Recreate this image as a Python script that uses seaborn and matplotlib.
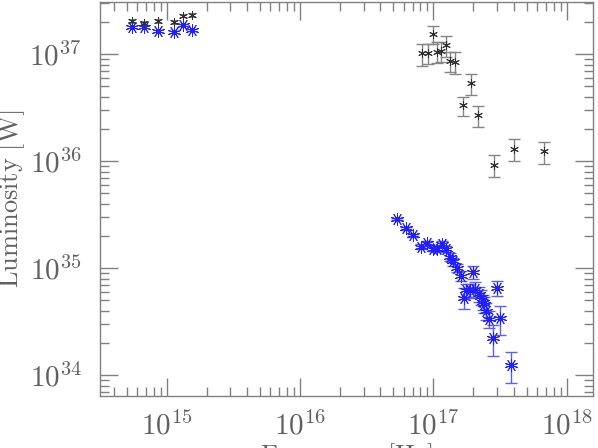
import numpy as np
import pandas as pd
import matplotlib
matplotlib.use("Agg")
import matplotlib.pyplot as plt
import matplotlib.ticker as mticker
import seaborn as sns

# optical/UV points (top left)
uv_freq = [5.46e14, 6.76e14, 8.65e14, 1.14e15, 1.33e15, 1.54e15]
uv_lum_blue = [1.81e37, 1.81e37, 1.65e37, 1.61e37, 1.88e37, 1.69e37]
uv_lum_black = [2.05e37, 1.96e37, 2.05e37, 1.99e37, 2.30e37, 2.33e37]
uv_err_black = [0.8e36, 0.8e36, 0.8e36, 0.8e36, 0.9e36, 0.9e36]

# X-ray points, blue series
xb_freq = [5.34e16, 6.22e16, 7.08e16, 8.02e16, 8.91e16, 9.9e16, 1.07e17, 1.16e17,
           1.24e17, 1.33e17, 1.41e17, 1.51e17, 1.61e17, 1.97e17, 1.77e17, 1.90e17,
           1.69e17, 2.07e17, 2.22e17, 2.28e17, 2.34e17, 2.41e17, 2.49e17, 2.63e17,
           2.99e17, 3.14e17, 2.82e17, 3.84e17]
xb_lum = [2.88e35, 2.37e35, 2.03e35, 1.59e35, 1.71e35, 1.52e35, 1.50e35, 1.68e35,
          1.52e35, 1.28e35, 1.16e35, 1.01e35, 8.5e34, 9.2e34, 6.27e34, 6.2e34,
          5.33e34, 6.37e34, 5.78e34, 5.40e34, 4.88e34, 4.59e34, 3.99e34, 3.36e34,
          6.55e34, 3.44e34, 2.23e34, 1.25e34]
xb_err = [0.8e34, 0.7e34, 0.6e34, 0.8e34, 0.9e34, 0.8e34, 0.8e34, 1.0e34,
          1.0e34, 1.0e34, 1.0e34, 0.9e34, 0.9e34, 1.2e34, 0.9e34, 0.9e34,
          1.2e34, 1.0e34, 0.9e34, 0.9e34, 0.8e34, 0.8e34, 0.7e34, 0.6e34,
          1.0e34, 1.04e34, 0.7e34, 0.4e34]

# X-ray points, black series
xk_freq = [8.2e16, 9.2e16, 1.0e17, 1.07e17, 1.14e17, 1.24e17, 1.33e17, 1.46e17,
           1.91e17, 1.66e17, 2.15e17, 2.87e17, 4.03e17, 6.8e17]
xk_lum = [1.02e37, 1.03e37, 1.54e37, 1.06e37, 1.07e37, 1.22e37, 8.7e36, 8.5e36,
          5.36e36, 3.33e36, 2.71e36, 9.3e35, 1.31e36, 1.24e36]
xk_err = [2.4e36, 2.2e36, 3.0e36, 2.3e36, 2.2e36, 2.7e36, 1.9e36, 2.0e36,
          1.2e36, 0.7e36, 0.6e36, 2.1e35, 3.0e35, 2.9e35]

sns.set_theme(style="ticks")
plt.rcParams["mathtext.fontset"] = "cm"
plt.rcParams["font.family"] = ["DejaVu Serif"]

grey = "#808080"
txt = "#606060"

blue = pd.DataFrame({"freq": uv_freq + xb_freq, "lum": uv_lum_blue + xb_lum})
black = pd.DataFrame({"freq": uv_freq + xk_freq, "lum": uv_lum_black + xk_lum})

fig = plt.figure(figsize=(5.98, 4.48), dpi=100)
ax = fig.add_axes([100 / 598, 1 - 396 / 448, 493.3 / 598, 394 / 448])

# error bars
ax.errorbar(xb_freq, xb_lum, yerr=xb_err, fmt="none", ecolor="#5c5cff",
            elinewidth=1.0, capsize=4, capthick=1.0)
ax.errorbar(xk_freq, xk_lum, yerr=xk_err, fmt="none", ecolor="#858585",
            elinewidth=1.0, capsize=4, capthick=1.0)
ax.errorbar(uv_freq, uv_lum_black, yerr=uv_err_black, fmt="none", ecolor="#858585",
            elinewidth=0.8, capsize=3, capthick=0.8)

# markers
sns.scatterplot(data=blue, x="freq", y="lum", marker=(10, 2, 0), s=75,
                color="#2020ff", linewidth=0.7, ax=ax, zorder=3)
sns.scatterplot(data=black, x="freq", y="lum", marker=(6, 2, 0), s=32,
                color="#303030", linewidth=0.7, ax=ax, zorder=4)

ax.set_xscale("log")
ax.set_yscale("log")
ax.set_xlim(3.16e14, 1.585e18)
ax.set_ylim(6.4e33, 3.08e37)

fmt = mticker.FuncFormatter(lambda v, _: r"$10^{%d}$" % int(round(np.log10(v))))
ax.xaxis.set_major_locator(mticker.LogLocator(base=10, numticks=20))
ax.yaxis.set_major_locator(mticker.LogLocator(base=10, numticks=20))
ax.xaxis.set_minor_locator(mticker.LogLocator(base=10, subs=np.arange(2, 10), numticks=20))
ax.yaxis.set_minor_locator(mticker.LogLocator(base=10, subs=np.arange(2, 10), numticks=20))
ax.xaxis.set_major_formatter(fmt)
ax.yaxis.set_major_formatter(fmt)
ax.xaxis.set_minor_formatter(mticker.NullFormatter())
ax.yaxis.set_minor_formatter(mticker.NullFormatter())

ax.tick_params(which="both", direction="in", top=True, right=True,
               color=grey, labelcolor=txt, labelsize=21, width=1.0)
ax.tick_params(which="minor", length=6.5)
ax.tick_params(axis="x", which="major", length=13, pad=11)
ax.tick_params(axis="y", which="major", length=13, pad=13)
for sp in ax.spines.values():
    sp.set_color(grey)
    sp.set_linewidth(1.0)

ax.set_xlabel(r"$\mathrm{Frequency\ [Hz]}$", fontsize=19, color=txt)
ax.set_ylabel(r"$\mathrm{Luminosity\ [W]}$", fontsize=19, color=txt, labelpad=2)
# the x label sits low, mostly below the canvas as in the reference
ax.xaxis.set_label_coords(0.5, -0.116, transform=ax.transAxes)
ax.xaxis.label.set_va("top")

fig.savefig("out.png", dpi=100)
